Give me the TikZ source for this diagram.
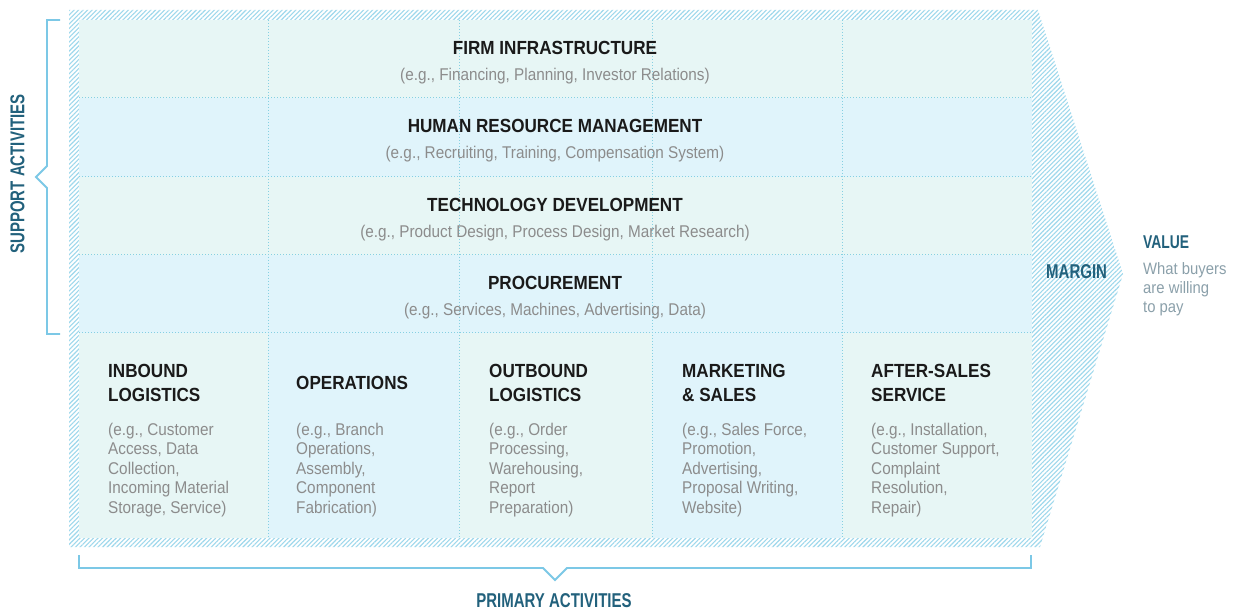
\documentclass[tikz,border=0pt]{standalone}
\usepackage{fontspec}
\setmainfont{Liberation Sans}[FakeStretch=0.9]
\newfontfamily\condfont{Liberation Sans}[FakeStretch=0.75]
\usetikzlibrary{patterns.meta}
\definecolor{mint}{HTML}{E7F6F5}
\definecolor{sky}{HTML}{E0F4FB}
\definecolor{hatchc}{HTML}{9ED8EC}
\definecolor{gridc}{HTML}{86D0E2}
\definecolor{brackc}{HTML}{7CC8E6}
\definecolor{headc}{HTML}{1A1A1A}
\definecolor{descc}{HTML}{8C8C8C}
\definecolor{labc}{HTML}{22617C}
\definecolor{valc}{HTML}{8BA0AA}
\begin{document}
\begin{tikzpicture}[x=1pt,y=-1pt,
  hd/.style={inner sep=0pt, text=headc, font=\fontsize{19}{24}\selectfont\bfseries, align=left},
  subt/.style={inner sep=0pt, text=descc, font=\fontsize{17}{19.5}\selectfont},
  dsc/.style={inner sep=0pt, text=descc, font=\fontsize{17}{19.5}\selectfont, align=left},
  blab/.style={inner sep=0pt, text=labc, font=\fontsize{20}{24}\condfont\bfseries},
  vdsc/.style={inner sep=0pt, text=valc, font=\fontsize{16.5}{19}\selectfont, align=left},
  gridln/.style={draw=gridc, line width=1pt, dash pattern=on 1pt off 2pt},
  brk/.style={draw=brackc, line width=1.8pt, line join=miter}]
\useasboundingbox (0,0) rectangle (1237,609);
\fill[white] (0,0) rectangle (1237,609);
% hatched outline with margin chevron
\fill[pattern={Lines[angle=45,distance=3.2pt,line width=1.1pt]}, pattern color=hatchc]
  (69,10) -- (1038,10) -- (1123,274) -- (1040,547) -- (69,547) -- cycle;
% support rows
\fill[mint] (79,20) rectangle (1032,98);
\fill[sky] (79,98) rectangle (1032,177);
\fill[mint] (79,177) rectangle (1032,255);
\fill[sky] (79,255) rectangle (1032,333);
% primary columns
\fill[mint] (79,333) rectangle (268,538);
\fill[sky] (268,333) rectangle (459,538);
\fill[mint] (459,333) rectangle (652,538);
\fill[sky] (652,333) rectangle (842,538);
\fill[mint] (842,333) rectangle (1032,538);
% dotted grid
\foreach \yy in {98,177,255,333} \draw[gridln] (79,\yy) -- (1032,\yy);
\foreach \xx in {268,459,652,842} \draw[gridln] (\xx,20) -- (\xx,538);
% brackets
\draw[brk] (60,20) -- (47,20) -- (47,166) -- (36,177) -- (47,188) -- (47,334) -- (60,334);
\draw[brk] (79,555) -- (79,568) -- (543,568) -- (555,580) -- (567,568) -- (1031,568) -- (1031,555);
% bracket labels
\node[blab, rotate=90] (support) at (17.5,174) {SUPPORT ACTIVITIES};
\node[blab, anchor=base] (primary) at (554,607) {PRIMARY ACTIVITIES};
% margin / value
\node[blab, anchor=base west] (margin) at (1046,279) {MARGIN};
\node[blab, anchor=base west, font=\fontsize{18.5}{22}\condfont\bfseries] (value) at (1143,249) {VALUE};
\node[vdsc, anchor=base west] (valuedesc) at (1143,313) {What buyers\\are willing\\to pay};
% support activities
\node[hd, anchor=base] (firm) at (555,54.5) {FIRM INFRASTRUCTURE};
\node[subt, anchor=base] (firmsub) at (555,81) {(e.g., Financing, Planning, Investor Relations)};
\node[hd, anchor=base] (hrm) at (555,132.5) {HUMAN RESOURCE MANAGEMENT};
\node[subt, anchor=base] (hrmsub) at (555,159) {(e.g., Recruiting, Training, Compensation System)};
\node[hd, anchor=base] (tech) at (555,211.5) {TECHNOLOGY DEVELOPMENT};
\node[subt, anchor=base] (techsub) at (555,238) {(e.g., Product Design, Process Design, Market Research)};
\node[hd, anchor=base] (proc) at (555,289.5) {PROCUREMENT};
\node[subt, anchor=base] (procsub) at (555,316) {(e.g., Services, Machines, Advertising, Data)};
% primary activities
\node[hd, anchor=base west] (inb) at (108,402) {INBOUND\\LOGISTICS};
\node[dsc, anchor=base west] (inbd) at (108,513) {(e.g., Customer\\Access, Data\\Collection,\\Incoming Material\\Storage, Service)};
\node[hd, anchor=base west] (ops) at (296,390) {OPERATIONS};
\node[dsc, anchor=base west] (opsd) at (296,513) {(e.g., Branch\\Operations,\\Assembly,\\Component\\Fabrication)};
\node[hd, anchor=base west] (outb) at (489,402) {OUTBOUND\\LOGISTICS};
\node[dsc, anchor=base west] (outbd) at (489,513) {(e.g., Order\\Processing,\\Warehousing,\\Report\\Preparation)};
\node[hd, anchor=base west] (mkt) at (682,402) {MARKETING\\\& SALES};
\node[dsc, anchor=base west] (mktd) at (682,513) {(e.g., Sales Force,\\Promotion,\\Advertising,\\Proposal Writing,\\Website)};
\node[hd, anchor=base west] (aft) at (871,402) {AFTER-SALES\\SERVICE};
\node[dsc, anchor=base west] (aftd) at (871,513) {(e.g., Installation,\\Customer Support,\\Complaint\\Resolution,\\Repair)};
\end{tikzpicture}
\end{document}
